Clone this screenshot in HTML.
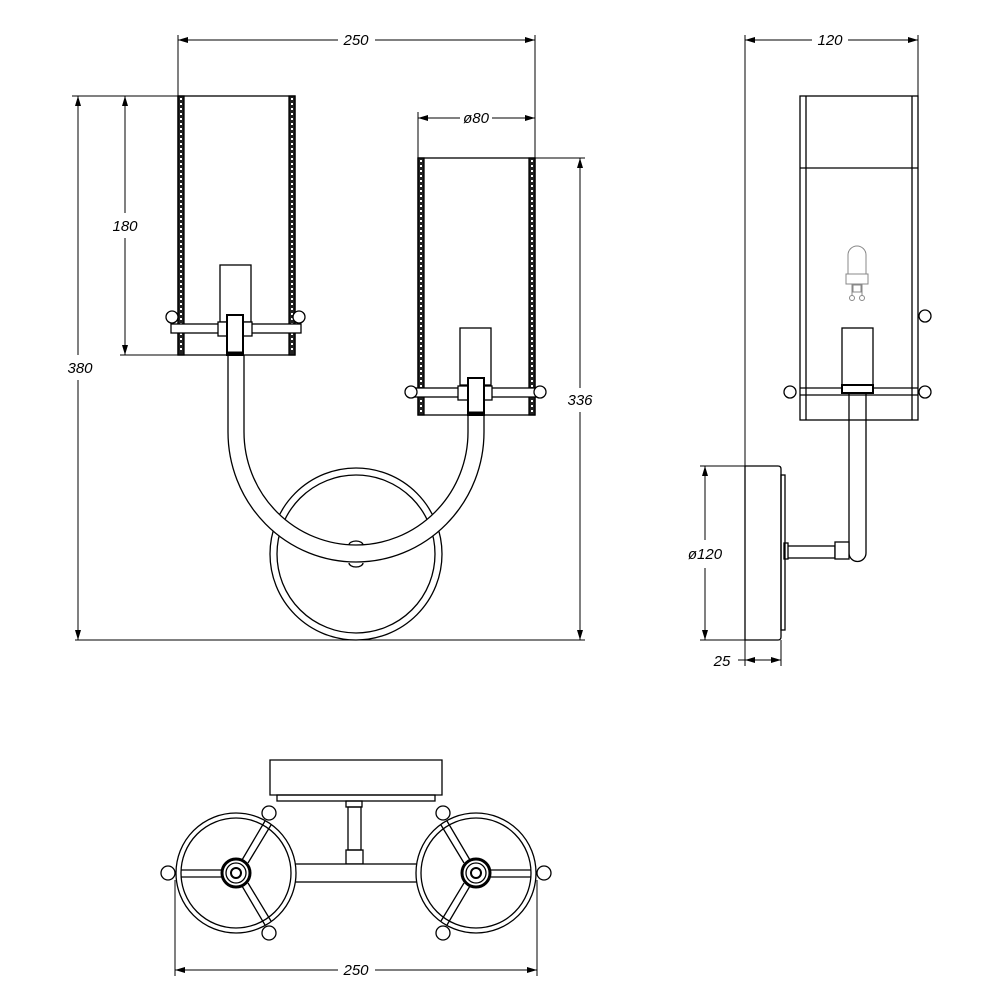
<!DOCTYPE html>
<html><head><meta charset="utf-8"><style>
html,body{margin:0;padding:0;background:#fff;}
svg{display:block;}
text{font-family:"Liberation Sans",sans-serif;font-style:italic;font-size:15px;fill:#000;}
</style></head><body>
<svg width="1000" height="1000" viewBox="0 0 1000 1000" xmlns="http://www.w3.org/2000/svg">
<defs>
<marker id="a" viewBox="0 0 10 6" refX="10" refY="3" markerWidth="10" markerHeight="6" orient="auto-start-reverse" markerUnits="userSpaceOnUse"><path d="M0,0L10,3L0,6z" fill="#000"/></marker>
<g id="wall"><rect x="0" y="0" width="6" height="1" fill="#222"/></g>
</defs>
<g fill="none" stroke="#000" stroke-width="1.3">
<!-- ===== FRONT VIEW ===== -->
<!-- backplate -->
<circle cx="356" cy="554" r="86" fill="#fff"/>
<circle cx="356" cy="554" r="79"/>
<!-- arm (covers circle) -->
<path d="M228,352 L228,432 A128,130 0 0 0 484,432 L484,412 L468,412 L468,432 A112,113 0 0 1 244,432 L244,352 Z" fill="#fff"/>
<path d="M349,545 a7,4 0 0 1 14,0 M349,563 a7,4 0 0 0 14,0"/>

<!-- left shade -->
<rect x="178" y="96" width="117" height="259" fill="#fff"/>
<rect x="178" y="96" width="6" height="259" fill="#222"/>
<rect x="289" y="96" width="6" height="259" fill="#222"/>
<line x1="181" y1="98" x2="181" y2="353" stroke="#fff" stroke-width="2" stroke-dasharray="2 3"/>
<line x1="292" y1="98" x2="292" y2="353" stroke="#fff" stroke-width="2" stroke-dasharray="2 3"/>
<rect x="220" y="265" width="31" height="57" fill="#fff"/>
<rect x="171" y="324" width="130" height="9" fill="#fff"/>
<circle cx="172" cy="317" r="6" fill="#fff"/>
<circle cx="299" cy="317" r="6" fill="#fff"/>
<rect x="218" y="322" width="34" height="14" fill="#fff"/>
<rect x="227" y="315" width="16" height="40" fill="#fff" stroke-width="2"/>
<line x1="227" y1="353" x2="243" y2="353" stroke-width="3"/>

<!-- right shade -->
<rect x="418" y="158" width="117" height="257" fill="#fff"/>
<rect x="418" y="158" width="6" height="257" fill="#222"/>
<rect x="529" y="158" width="6" height="257" fill="#222"/>
<line x1="421" y1="160" x2="421" y2="413" stroke="#fff" stroke-width="2" stroke-dasharray="2 3"/>
<line x1="532" y1="160" x2="532" y2="413" stroke="#fff" stroke-width="2" stroke-dasharray="2 3"/>
<rect x="460" y="328" width="31" height="57" fill="#fff"/>
<rect x="412" y="388" width="128" height="9" fill="#fff"/>
<circle cx="411" cy="392" r="6" fill="#fff"/>
<circle cx="540" cy="392" r="6" fill="#fff"/>
<rect x="458" y="386" width="34" height="14" fill="#fff"/>
<rect x="468" y="378" width="16" height="37" fill="#fff" stroke-width="2"/>
<line x1="468" y1="413" x2="484" y2="413" stroke-width="3"/>

<!-- ===== SIDE VIEW ===== -->
<rect x="800" y="96" width="118" height="324" fill="#fff"/>
<line x1="806" y1="96" x2="806" y2="420"/>
<line x1="912" y1="96" x2="912" y2="420"/>
<line x1="800" y1="168" x2="918" y2="168"/>
<g stroke="#888" stroke-width="1">
<path d="M848,255 a9,9 0 0 1 18,0 L866,274 L848,274 Z"/>
<rect x="846" y="274" width="22" height="10"/>
<line x1="852" y1="284" x2="852" y2="296"/><line x1="862" y1="284" x2="862" y2="296"/>
<circle cx="852" cy="298" r="2.5"/><circle cx="862" cy="298" r="2.5"/>
<rect x="853" y="285" width="8" height="7"/>
</g>
<line x1="800" y1="388" x2="918" y2="388"/>
<line x1="800" y1="395" x2="918" y2="395"/>
<rect x="842" y="298" width="31" height="57" transform="translate(0,30)" fill="#fff"/>
<rect x="842" y="385" width="31" height="8" fill="#fff" stroke-width="2"/>
<circle cx="790" cy="392" r="6"/>
<circle cx="925" cy="392" r="6"/>
<circle cx="925" cy="316" r="6"/>
<path d="M849,393 L849,553 M866,393 L866,553 A8.5,8.5 0 0 1 849,553"/>
<rect x="785" y="546" width="50" height="12" fill="#fff"/>
<rect x="835" y="542" width="14" height="17" fill="#fff"/>
<rect x="784" y="543" width="4" height="16" fill="#fff"/>
<path d="M745,466 L778,466 Q781,466 781,469 L781,637 Q781,640 778,640 L745,640 Z" fill="#fff"/>
<rect x="781" y="475" width="4" height="155"/>

<!-- ===== TOP VIEW ===== -->
<path d="M270,760 L442,760 L442,795 L270,795 Z" fill="#fff"/>
<rect x="277" y="795" width="158" height="6"/>
<rect x="346" y="801" width="16" height="6"/>
<rect x="348" y="807" width="13" height="43"/>
<rect x="346" y="850" width="17" height="14"/>
<rect x="295" y="864" width="124" height="18" fill="#fff"/>
<g id="wl">
<circle cx="236" cy="873" r="60" fill="#fff"/>
<circle cx="236" cy="873" r="55"/>
<circle cx="269" cy="813" r="7" fill="#fff"/>
<circle cx="269" cy="933" r="7" fill="#fff"/>
<circle cx="168" cy="873" r="7" fill="#fff"/>
<path d="M181,870 L222,870 M181,877 L222,877"/>
<path d="M242,860 L265,821 M248,863 L271,825"/>
<path d="M242,886 L265,925 M248,883 L271,921"/>
<circle cx="236" cy="873" r="14" stroke-width="3" fill="#fff"/>
<circle cx="236" cy="873" r="10"/>
<circle cx="236" cy="873" r="5" stroke-width="2"/>
</g>
<use href="#wl" transform="translate(712,0) scale(-1,1)"/>
</g>

<!-- ===== DIMENSIONS ===== -->
<g stroke="#000" stroke-width="1" fill="none">
<line x1="178" y1="35" x2="178" y2="96"/><line x1="535" y1="35" x2="535" y2="158"/>
<line x1="178" y1="40" x2="338" y2="40" marker-start="url(#a)"/><line x1="375" y1="40" x2="535" y2="40" marker-end="url(#a)"/>
<line x1="418" y1="112" x2="418" y2="158"/>
<line x1="418" y1="118" x2="460" y2="118" marker-start="url(#a)"/><line x1="492" y1="118" x2="535" y2="118" marker-end="url(#a)"/>
<line x1="72" y1="96" x2="178" y2="96"/>
<line x1="75" y1="640" x2="585" y2="640"/>
<line x1="78" y1="96" x2="78" y2="355" marker-start="url(#a)"/><line x1="78" y1="380" x2="78" y2="640" marker-end="url(#a)"/>
<line x1="120" y1="355" x2="178" y2="355"/>
<line x1="125" y1="96" x2="125" y2="213" marker-start="url(#a)"/><line x1="125" y1="238" x2="125" y2="355" marker-end="url(#a)"/>
<line x1="535" y1="158" x2="585" y2="158"/>
<line x1="580" y1="158" x2="580" y2="388" marker-start="url(#a)"/><line x1="580" y1="412" x2="580" y2="640" marker-end="url(#a)"/>
<line x1="745" y1="35" x2="745" y2="466"/><line x1="918" y1="35" x2="918" y2="96"/>
<line x1="745" y1="40" x2="812" y2="40" marker-start="url(#a)"/><line x1="848" y1="40" x2="918" y2="40" marker-end="url(#a)"/>
<line x1="700" y1="466" x2="745" y2="466"/><line x1="700" y1="640" x2="745" y2="640"/>
<line x1="705" y1="466" x2="705" y2="540" marker-start="url(#a)"/><line x1="705" y1="568" x2="705" y2="640" marker-end="url(#a)"/>
<line x1="745" y1="640" x2="745" y2="666"/><line x1="781" y1="640" x2="781" y2="666"/>
<line x1="738" y1="660" x2="745" y2="660"/>
<line x1="745" y1="660" x2="781" y2="660" marker-start="url(#a)" marker-end="url(#a)"/>
<line x1="175" y1="880" x2="175" y2="976"/><line x1="537" y1="880" x2="537" y2="976"/>
<line x1="175" y1="970" x2="338" y2="970" marker-start="url(#a)"/><line x1="375" y1="970" x2="537" y2="970" marker-end="url(#a)"/>
</g>
<g>
<text x="356" y="45" text-anchor="middle">250</text>
<text x="476" y="123" text-anchor="middle">ø80</text>
<text x="80" y="373" text-anchor="middle" style="fill:#000">380</text>
<text x="125" y="231" text-anchor="middle">180</text>
<text x="580" y="405" text-anchor="middle">336</text>
<text x="830" y="45" text-anchor="middle">120</text>
<text x="705" y="559" text-anchor="middle">ø120</text>
<text x="722" y="666" text-anchor="middle">25</text>
<text x="356" y="975" text-anchor="middle">250</text>
</g>
</svg>
</body></html>
